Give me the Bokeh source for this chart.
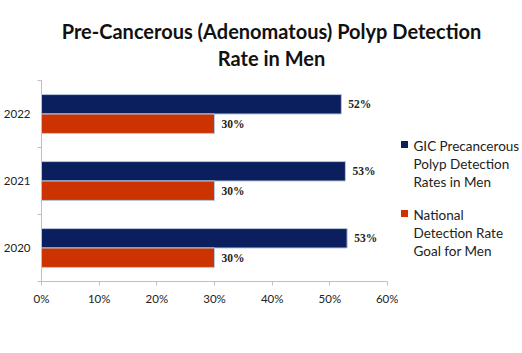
from bokeh.plotting import figure
from bokeh.models import ColumnDataSource, FixedTicker, LabelSet, Range1d
from bokeh.layouts import column, row
from bokeh.transform import dodge
from bokeh.core.properties import value
from bokeh.embed import file_html
from bokeh.resources import INLINE

years = ["2020", "2021", "2022"]
gic_rates = [53.0, 52.7, 52.0]
gic_labels = ["53%", "53%", "52%"]
goal_rates = [30.0, 30.0, 30.0]
goal_labels = ["30%", "30%", "30%"]
x_ticks = [0, 10, 20, 30, 40, 50, 60]
series_names = [["GIC Precancerous", "Polyp Detection", "Rates in Men"],
                ["National", "Detection Rate", "Goal for Men"]]
title_lines = ["Pre-Cancerous (Adenomatous) Polyp Detection", "Rate in Men"]

BLUE = "#0B1F5F"
RED = "#CC3300"
FONT = "Lato"
TXT = "#222222"

W, H = 522, 353
TITLE_H = 74
MAIN_W = 398
BODY_H = H - TITLE_H


def blank_fig(w, h):
    f = figure(width=w, height=h, output_backend="svg", toolbar_location=None,
               x_range=Range1d(0, w), y_range=Range1d(h, 0),
               x_axis_location=None, y_axis_location=None,
               min_border_left=0, min_border_right=0, min_border_top=0, min_border_bottom=0)
    f.outline_line_color = None
    f.xgrid.visible = False
    f.ygrid.visible = False
    f.frame_align = False
    return f


# ---- title ----
tf = blank_fig(W, TITLE_H)
tsrc = ColumnDataSource(dict(x=[271, 271], y=[30, 57], t=title_lines))
tf.text(x="x", y="y", text="t", source=tsrc, text_align="center", text_baseline="middle",
        text_font=value(FONT), text_font_style="bold", text_font_size="20px",
        text_color="#111111")

# ---- main chart ----
ypos = [i + 0.5 for i in range(len(years))]
src = ColumnDataSource(dict(y=ypos, gic=gic_rates, gic_lab=gic_labels,
                            goal=goal_rates, goal_lab=goal_labels))

p = figure(width=MAIN_W, height=BODY_H, output_backend="svg", toolbar_location=None,
           x_range=(0, 60), y_range=(0, 3),
           min_border_left=41, min_border_right=MAIN_W - 387, min_border_top=6,
           min_border_bottom=72)
p.frame_align = False
p.outline_line_color = None
p.xgrid.visible = False
p.ygrid.visible = False

bh = 0.29
p.hbar(y=dodge("y", bh / 2), right="gic", left=0, height=bh, source=src,
       fill_color=BLUE, line_color="#B8C8DC", line_width=1)
p.hbar(y=dodge("y", -bh / 2), right="goal", left=0, height=bh, source=src,
       fill_color=RED, line_color="#B8C8DC", line_width=1)

p.add_layout(LabelSet(x="gic", y=dodge("y", bh / 2), text="gic_lab", source=src,
                      x_offset=7, text_baseline="middle", text_font=FONT,
                      text_font_style="bold", text_font_size="11.5px", text_color=TXT))
p.add_layout(LabelSet(x="goal", y=dodge("y", -bh / 2), text="goal_lab", source=src,
                      x_offset=7, text_baseline="middle", text_font=FONT,
                      text_font_style="bold", text_font_size="11.5px", text_color=TXT))

p.xaxis.ticker = FixedTicker(ticks=x_ticks)
p.xaxis.major_label_overrides = {t: f"{t}%" for t in x_ticks}
p.xaxis.axis_line_color = "#BFBFBF"
p.xaxis.major_tick_line_color = "#BFBFBF"
p.xaxis.major_tick_in = 0
p.xaxis.major_tick_out = 4
p.xaxis.minor_tick_line_color = None
p.xaxis.major_label_text_font = FONT
p.xaxis.major_label_text_font_size = "11.5px"
p.xaxis.major_label_text_color = TXT
p.xaxis.major_label_standoff = 6

p.yaxis.ticker = FixedTicker(ticks=ypos, minor_ticks=[0, 1, 2, 3])
p.yaxis.major_label_overrides = {y: lab for y, lab in zip(ypos, years)}
p.yaxis.axis_line_color = "#BFBFBF"
p.yaxis.major_tick_line_color = None
p.yaxis.major_tick_out = 0
p.yaxis.major_tick_in = 0
p.yaxis.minor_tick_line_color = "#BFBFBF"
p.yaxis.minor_tick_in = 0
p.yaxis.minor_tick_out = 4
p.yaxis.major_label_text_font = FONT
p.yaxis.major_label_text_font_size = "11.5px"
p.yaxis.major_label_text_color = TXT
p.yaxis.major_label_standoff = 7

# ---- legend ----
lf = blank_fig(W - MAIN_W, BODY_H)
colors = [BLUE, RED]
first_line_y = [145 - TITLE_H, 214 - TITLE_H]
sq_x, txt_x, line_h = 404 - MAIN_W, 413 - MAIN_W, 18
sq = ColumnDataSource(dict(x=[sq_x, sq_x], y=[y - 1 for y in first_line_y], c=colors))
lf.scatter(x="x", y="y", source=sq, marker="square", size=7, fill_color="c", line_color=None)
lx, ly, lt = [], [], []
for lines, y0 in zip(series_names, first_line_y):
    for j, ln in enumerate(lines):
        lx.append(txt_x)
        ly.append(y0 + j * line_h)
        lt.append(ln)
lf.text(x="x", y="y", text="t", source=ColumnDataSource(dict(x=lx, y=ly, t=lt)),
        text_align="left", text_baseline="middle", text_font=value(FONT),
        text_font_size="13.5px", text_color=TXT)

layout = column(tf, row(p, lf, spacing=0), spacing=0)
open("out.html", "w").write(file_html(layout, INLINE))
